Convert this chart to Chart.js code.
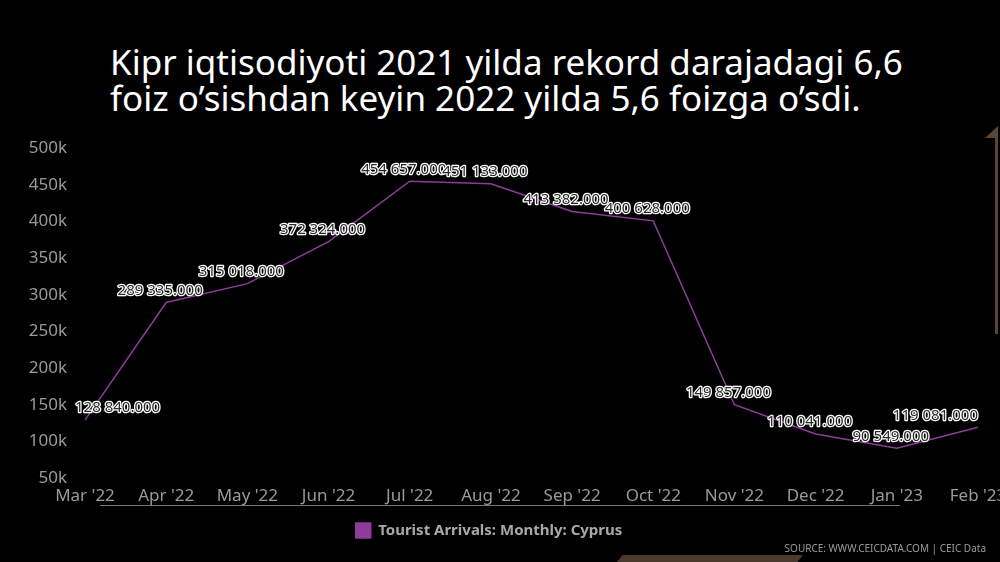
<!DOCTYPE html>
<html>
<head>
<meta charset="utf-8">
<script src="https://cdn.jsdelivr.net/npm/chart.js@4/dist/chart.umd.min.js"></script>
<style>
  html, body { margin: 0; padding: 0; background: #000; width: 1000px; height: 562px; overflow: hidden; }
  #wrap { position: relative; width: 1000px; height: 562px; overflow: hidden; }
  #title { position: absolute; left: 110px; top: 44px; color: #fff; font-family: "Noto Sans", sans-serif; font-size: 35px; line-height: 36px; white-space: nowrap; }
  #source { position: absolute; right: 14px; top: 541px; color: #9a9a9a; font-family: "Noto Sans", sans-serif; font-size: 10px; }
  #rule { position: absolute; left: 100px; top: 505px; width: 800px; height: 1px; background: #777; }
  #edge { position: absolute; left: 995px; top: 136px; width: 3px; height: 198px; background: #5a4636; }
  #edgeTip { position: absolute; left: 985px; top: 126px; width: 13px; height: 12px; background: #5a4636; clip-path: polygon(100% 0, 100% 100%, 0 100%); }
  #foot { position: absolute; left: 617px; top: 555px; width: 186px; height: 7px; background: #4a3a2e; clip-path: polygon(3% 0, 100% 0, 97% 100%, 0 100%); }
  canvas { position: absolute; left: 0; top: 0; }
</style>
</head>
<body>
<div id="wrap">
  <div id="edgeTip"></div>
  <div id="edge"></div>
  <div id="foot"></div>
  <div id="title">Kipr iqtisodiyoti 2021 yilda rekord darajadagi 6,6<br>foiz o’sishdan keyin 2022 yilda 5,6 foizga o’sdi.</div>
  <div style="position:absolute;left:0;top:0;width:1040px;height:562px;">
    <canvas id="arrivalsChart" width="1040" height="562"></canvas>
  </div>
  <div id="rule"></div>
  <div id="source">SOURCE: WWW.CEICDATA.COM | CEIC Data</div>
</div>
<script>
var months = ["Mar '22", "Apr '22", "May '22", "Jun '22", "Jul '22", "Aug '22", "Sep '22", "Oct '22", "Nov '22", "Dec '22", "Jan '23", "Feb '23"];
var arrivals = [128840, 289335, 315018, 372324, 454657, 451133, 413382, 400628, 149857, 110041, 90549, 119081];
var yTicks = [50000, 100000, 150000, 200000, 250000, 300000, 350000, 400000, 450000, 500000];

var lineColor = "#8e3b9c";

function fmt(v) {
    var s = String(Math.round(v)).replace(/\B(?=(\d{3})+(?!\d))/g, " ");
    return s + ".000";
}

// value labels over each point, outlined like the original
var valueLabels = {
    id: "valueLabels",
    afterDatasetsDraw: function (chart) {
        var ctx = chart.ctx;
        var meta = chart.getDatasetMeta(0);
        var area = chart.chartArea;
        ctx.save();
        ctx.font = "15px 'Noto Sans', sans-serif";
        ctx.textAlign = "center";
        ctx.textBaseline = "middle";
        ctx.lineJoin = "round";
        meta.data.forEach(function (pt, i) {
            var txt = fmt(arrivals[i]);
            var w = ctx.measureText(txt).width;
            var x = pt.x - 6;
            if (x - w / 2 < area.left - 10) x = area.left - 10 + w / 2;
            if (x + w / 2 > 978) x = 978 - w / 2;
            var y = pt.y - 12;
            ctx.lineWidth = 2.5;
            ctx.strokeStyle = "#ffffff";
            ctx.strokeText(txt, x, y);
            ctx.fillStyle = "#2a2a2a";
            ctx.fillText(txt, x, y);
        });
        ctx.restore();
    }
};

var ctx1 = document.getElementById("arrivalsChart");
var arrivalsChart = new Chart(ctx1, {
    type: "line",
    data: {
        labels: months,
        datasets: [
            {
                label: "Tourist Arrivals: Monthly: Cyprus",
                data: arrivals,
                borderColor: lineColor,
                backgroundColor: lineColor,
                borderWidth: 1.5,
                pointRadius: 0,
                tension: 0,
                fill: false
            }
        ]
    },
    options: {
        responsive: false,
        animation: false,
        layout: {
            padding: { top: 148, right: 62, bottom: 14, left: 0 }
        },
        plugins: {
            legend: {
                position: "bottom",
                labels: {
                    color: "#a8a8a8",
                    boxWidth: 15,
                    boxHeight: 15,
                    padding: 10,
                    font: { family: "'Noto Sans', sans-serif", size: 15, weight: "bold" }
                }
            },
            tooltip: { enabled: false }
        },
        scales: {
            x: {
                offset: false,
                grid: { display: false, drawTicks: false },
                border: { display: false },
                ticks: {
                    color: "#9a9a9a",
                    padding: 8,
                    maxRotation: 0,
                    autoSkip: false,
                    font: { family: "'Noto Sans', sans-serif", size: 17 }
                },
                afterFit: function (s) { s.height = 35; }
            },
            y: {
                min: 50000,
                max: 500000,
                grid: { display: false, drawTicks: false },
                border: { display: false },
                afterBuildTicks: function (s) {
                    s.ticks = yTicks.map(function (v) { return { value: v }; });
                },
                ticks: {
                    color: "#9a9a9a",
                    padding: 18,
                    font: { family: "'Noto Sans', sans-serif", size: 17 },
                    callback: function (v) { return (v / 1000) + "k"; }
                },
                afterFit: function (s) { s.width = 85; }
            }
        }
    },
    plugins: [valueLabels]
});
</script>
</body>
</html>
